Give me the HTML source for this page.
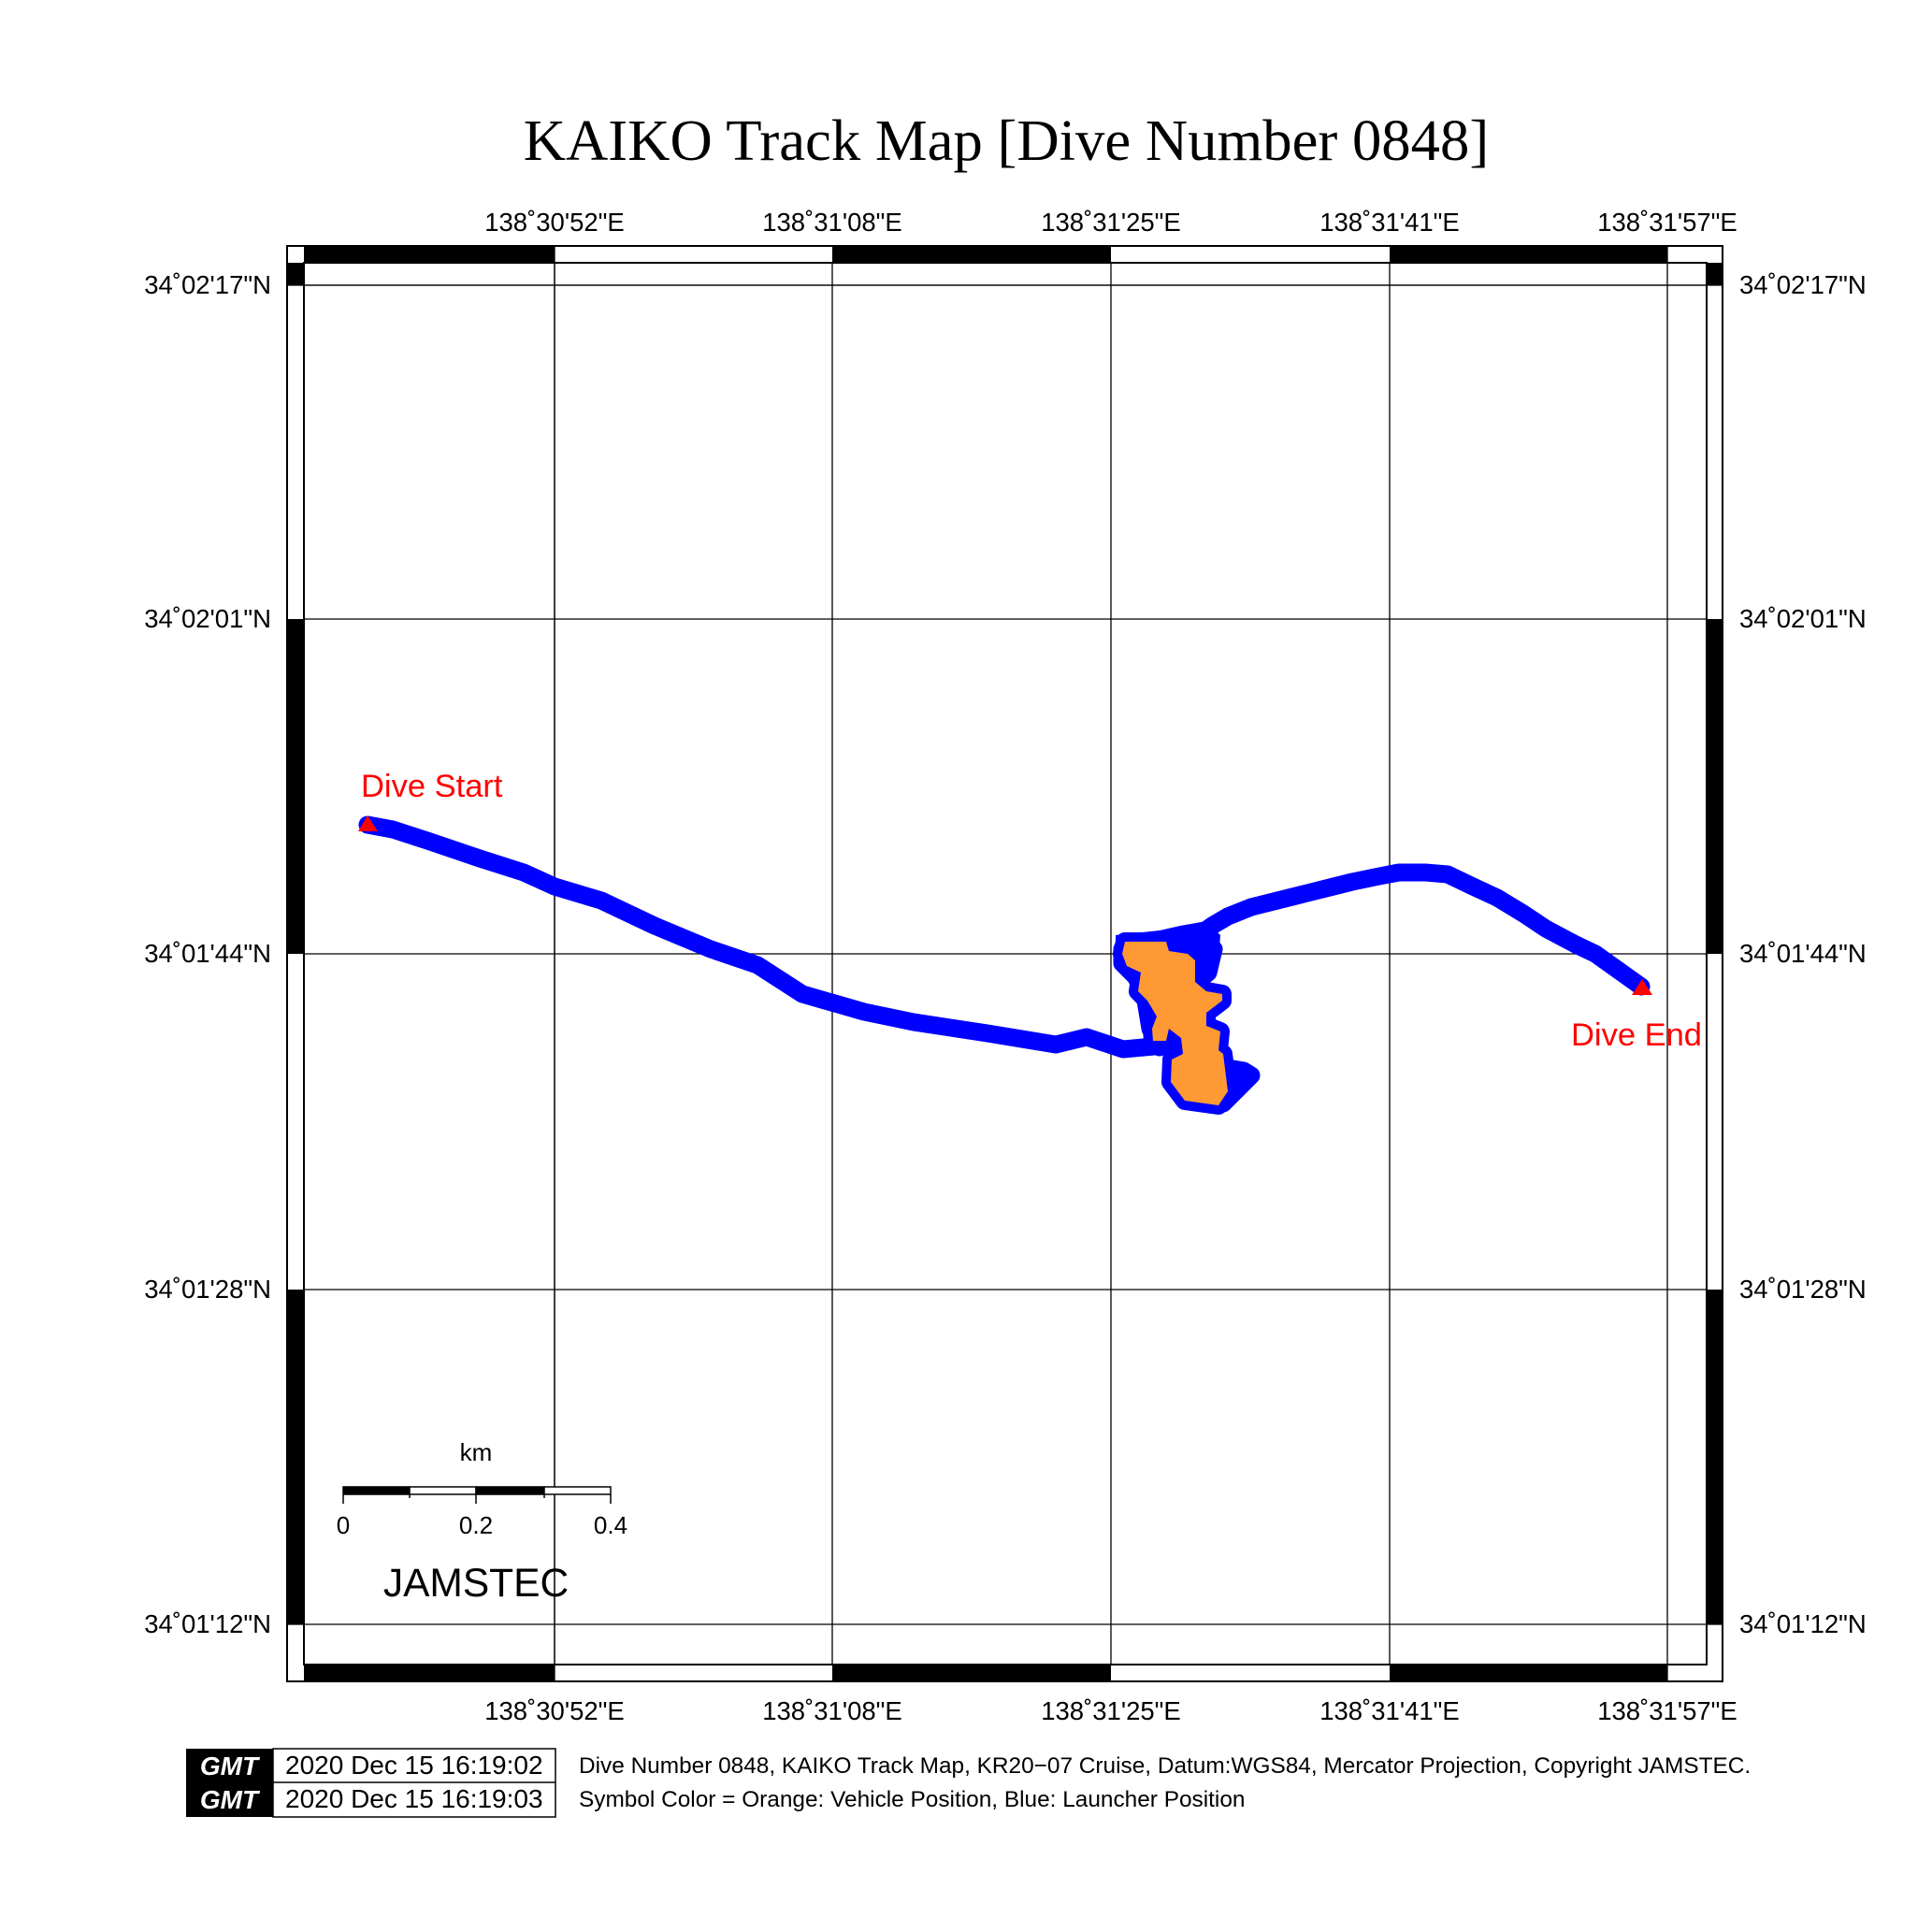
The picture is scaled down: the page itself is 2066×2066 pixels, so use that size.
<!DOCTYPE html>
<html><head><meta charset="utf-8"><style>html,body{margin:0;padding:0;background:#fff}svg{display:block}</style></head>
<body>
<svg width="2066" height="2066" viewBox="0 0 2066 2066" xmlns="http://www.w3.org/2000/svg" font-family="Liberation Sans, sans-serif">
<rect width="2066" height="2066" fill="#fff"/>
<text x="1076" y="171" font-family="Liberation Serif, serif" font-size="62.7" text-anchor="middle">KAIKO Track Map [Dive Number 0848]</text>
<!-- grid -->
<g stroke="#000" stroke-width="1.3">
<line x1="593" y1="281" x2="593" y2="1780"/><line x1="890" y1="281" x2="890" y2="1780"/><line x1="1188" y1="281" x2="1188" y2="1780"/><line x1="1486" y1="281" x2="1486" y2="1780"/><line x1="1783" y1="263" x2="1783" y2="1798"/>
<line x1="325" y1="305" x2="1825" y2="305"/><line x1="325" y1="662" x2="1825" y2="662"/><line x1="325" y1="1020" x2="1825" y2="1020"/><line x1="325" y1="1379" x2="1825" y2="1379"/><line x1="307" y1="1737" x2="1842" y2="1737"/>
<line x1="307" y1="305" x2="1842" y2="305"/><line x1="593" y1="263" x2="593" y2="1798"/>
</g>
<!-- frame strips -->
<g fill="#000">
<rect x="325" y="263" width="268" height="18"/><rect x="890" y="263" width="298" height="18"/><rect x="1486" y="263" width="297" height="18"/>
<rect x="325" y="1780" width="268" height="18"/><rect x="890" y="1780" width="298" height="18"/><rect x="1486" y="1780" width="297" height="18"/>
<rect x="307" y="281" width="18" height="24"/><rect x="307" y="662" width="18" height="358"/><rect x="307" y="1379" width="18" height="358"/>
<rect x="1825" y="281" width="18" height="24"/><rect x="1825" y="662" width="18" height="358"/><rect x="1825" y="1379" width="18" height="358"/>
</g>
<g fill="none" stroke="#000" stroke-width="2">
<rect x="307" y="263" width="1535" height="1535"/>
<rect x="325" y="281" width="1500" height="1499"/>
</g>
<!-- labels -->
<g font-size="27.5" text-anchor="middle">
<text x="593" y="247">138˚30'52"E</text><text x="890" y="247">138˚31'08"E</text><text x="1188" y="247">138˚31'25"E</text><text x="1486" y="247">138˚31'41"E</text><text x="1783" y="247">138˚31'57"E</text>
<text x="593" y="1839">138˚30'52"E</text><text x="890" y="1839">138˚31'08"E</text><text x="1188" y="1839">138˚31'25"E</text><text x="1486" y="1839">138˚31'41"E</text><text x="1783" y="1839">138˚31'57"E</text>
</g>
<g font-size="27.5" text-anchor="end">
<text x="290" y="314">34˚02'17"N</text><text x="290" y="671">34˚02'01"N</text><text x="290" y="1029">34˚01'44"N</text><text x="290" y="1388">34˚01'28"N</text><text x="290" y="1746">34˚01'12"N</text>
</g>
<g font-size="27.5">
<text x="1860" y="314">34˚02'17"N</text><text x="1860" y="671">34˚02'01"N</text><text x="1860" y="1029">34˚01'44"N</text><text x="1860" y="1388">34˚01'28"N</text><text x="1860" y="1746">34˚01'12"N</text>
</g>
<!-- track -->
<polygon fill="#0000ff" points="1193,1000 1240,995 1262,990 1290,985 1305,1000 1302,1040 1285,1050 1245,1045 1205,1040 1193,1030"/>
<g fill="none" stroke="#0000ff" stroke-width="19" stroke-linejoin="round" stroke-linecap="round">
<polyline points="393,882 420,887 460,900 510,917 560,933 593,948 643,963 700,990 760,1015 810,1032 858,1063 924,1082 977,1093 1056,1105 1129,1117 1162,1109 1201,1122 1234,1119 1267,1115"/>
<polyline points="1250,1007 1268,1007 1282,1000 1296,990 1313,980 1338,970 1366,963 1390,957 1418,950 1446,943 1475,937 1496,933 1524,933 1548,935 1573,947 1601,960 1629,977 1653,993 1685,1010 1706,1020 1734,1040 1755,1055"/>
<polyline points="1300,1140 1330,1145 1338,1150 1320,1168 1308,1180"/>
<polyline points="1200,1015 1200,1030 1215,1045 1225,1070 1230,1100 1240,1120"/>
<polyline points="1270,1010 1290,1005 1298,1015 1292,1040 1280,1050"/>
<polygon stroke-width="20" points="1203,1007 1247,1007 1250,1017 1270,1020 1278,1027 1278,1050 1290,1060 1307,1063 1307,1070 1290,1083 1290,1097 1305,1103 1303,1123 1308,1127 1313,1167 1303,1182 1267,1177 1252,1157 1253,1133 1265,1127 1263,1110 1250,1100 1247,1113 1233,1113 1232,1100 1237,1087 1227,1070 1217,1060 1220,1040 1205,1033 1200,1020"/>
</g>
<polygon fill="#0000ff" points="1203,1007 1247,1007 1250,1017 1270,1020 1278,1027 1278,1050 1290,1060 1307,1063 1307,1070 1290,1083 1290,1097 1305,1103 1303,1123 1308,1127 1313,1167 1303,1182 1267,1177 1252,1157 1253,1133 1265,1127 1263,1110 1250,1100 1247,1113 1233,1113 1232,1100 1237,1087 1227,1070 1217,1060 1220,1040 1205,1033 1200,1020"/>
<polygon fill="#ff9933" points="1203,1007 1247,1007 1250,1017 1270,1020 1278,1027 1278,1050 1290,1060 1307,1063 1307,1070 1290,1083 1290,1097 1305,1103 1303,1123 1308,1127 1313,1167 1303,1182 1267,1177 1252,1157 1253,1133 1265,1127 1263,1110 1250,1100 1247,1113 1233,1113 1232,1100 1237,1087 1227,1070 1217,1060 1220,1040 1205,1033 1200,1020"/>
<polygon fill="#ff0000" points="393,872 383,889 404,889"/>
<polygon fill="#ff0000" points="1756,1047 1745,1064 1767,1064"/>
<text x="386" y="852" font-size="34.5" fill="#ff0000">Dive Start</text>
<text x="1680" y="1118" font-size="34.5" fill="#ff0000">Dive End</text>
<!-- scale bar -->
<g stroke="#000" stroke-width="1.5">
<rect x="367" y="1590" width="71" height="8" fill="#000"/><rect x="438" y="1590" width="71" height="8" fill="#fff"/><rect x="509" y="1590" width="73" height="8" fill="#000"/><rect x="582" y="1590" width="71" height="8" fill="#fff"/>
<line x1="367" y1="1598" x2="367" y2="1608"/><line x1="509" y1="1598" x2="509" y2="1608"/><line x1="653" y1="1598" x2="653" y2="1608"/><line x1="438" y1="1598" x2="438" y2="1602"/><line x1="582" y1="1598" x2="582" y2="1602"/>
</g>
<g font-size="26" text-anchor="middle">
<text x="509" y="1562">km</text><text x="367" y="1640">0</text><text x="509" y="1640">0.2</text><text x="653" y="1640">0.4</text>
</g>
<text x="509" y="1707" font-size="42.5" text-anchor="middle">JAMSTEC</text>
<!-- footer -->
<rect x="199" y="1870" width="93" height="73" fill="#000"/>
<rect x="292" y="1870" width="302" height="73" fill="none" stroke="#000" stroke-width="1.5"/>
<line x1="292" y1="1906" x2="594" y2="1906" stroke="#000" stroke-width="1.5"/>
<g fill="#fff" font-size="28" font-weight="bold" font-style="italic" text-anchor="middle">
<text x="245" y="1898">GMT</text><text x="245" y="1934">GMT</text>
</g>
<g font-size="28">
<text x="305" y="1897">2020 Dec 15 16:19:02</text><text x="305" y="1933">2020 Dec 15 16:19:03</text>
</g>
<g font-size="24.4">
<text x="619" y="1896">Dive Number 0848, KAIKO Track Map, KR20−07 Cruise, Datum:WGS84, Mercator Projection, Copyright JAMSTEC.</text>
<text x="619" y="1932">Symbol Color = Orange: Vehicle Position, Blue: Launcher Position</text>
</g>
</svg>
</body></html>
